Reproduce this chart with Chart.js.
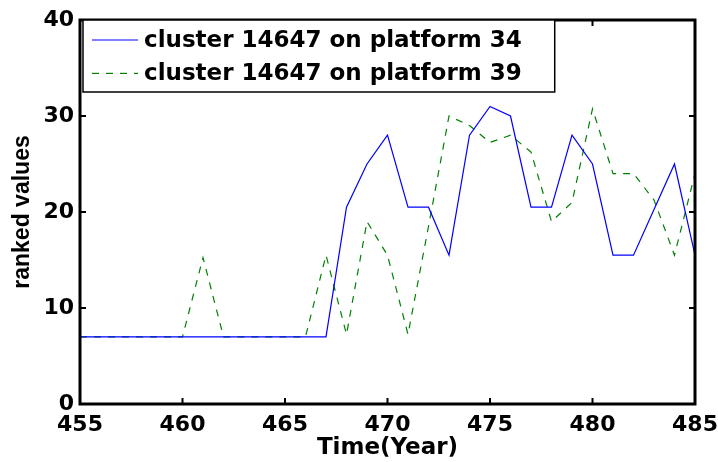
<!DOCTYPE html>
<html>
<head>
<meta charset="utf-8">
<title>ranked values</title>
<script src="https://cdn.jsdelivr.net/npm/chart.js@4.4.0/dist/chart.umd.min.js"></script>
<style>
    html, body { margin: 0; padding: 0; background: #fff; }
    #wrap { width: 718px; height: 462px; }
</style>
</head>
<body>
<div id="wrap"><canvas id="rank-chart" width="718" height="462"></canvas></div>
<script>
const years = [455, 456, 457, 458, 459, 460, 461, 462, 463, 464, 465, 466, 467, 468, 469, 470,
               471, 472, 473, 474, 475, 476, 477, 478, 479, 480, 481, 482, 483, 484, 485];
const platform34 = [7, 7, 7, 7, 7, 7, 7, 7, 7, 7, 7, 7, 7, 20.5, 25, 28,
                    20.5, 20.5, 15.5, 28, 31, 30, 20.5, 20.5, 28, 25, 15.5, 15.5, 20.25, 25, 15.5];
const platform39 = [7, 7, 7, 7, 7, 7, 15.25, 7, 7, 7, 7, 7, 15.5, 7.25, 19, 15.5,
                    7.25, 18.5, 30, 29, 27.25, 28, 26.25, 19, 21, 30.75, 24, 24, 21.25, 15.5, 24];
const seriesNames = ['cluster 14647 on platform 34', 'cluster 14647 on platform 39'];

const TICK_FONT = { family: '"DejaVu Sans"', size: 22, weight: 'bold' };

// box around the axes + inward ticks on all four sides (matlab look)
const frameTicks = {
    id: 'frameTicks',
    afterDatasetsDraw(chart) {
        const { ctx, chartArea: a, scales } = chart;
        const len = 6;
        ctx.save();
        ctx.strokeStyle = '#000';
        ctx.lineWidth = 2;
        ctx.beginPath();
        scales.x.ticks.forEach((t, i) => {
            const px = scales.x.getPixelForTick(i);
            ctx.moveTo(px, a.bottom); ctx.lineTo(px, a.bottom - len);
            ctx.moveTo(px, a.top); ctx.lineTo(px, a.top + len);
        });
        scales.y.ticks.forEach((t, i) => {
            const py = scales.y.getPixelForTick(i);
            ctx.moveTo(a.left, py); ctx.lineTo(a.left + len, py);
            ctx.moveTo(a.right, py); ctx.lineTo(a.right - len, py);
        });
        ctx.stroke();
        ctx.lineWidth = 3;
        ctx.strokeRect(a.left, a.top, a.right - a.left, a.bottom - a.top);
        ctx.restore();
    }
};

// legend box in the upper left corner of the plot
const boxLegend = {
    id: 'boxLegend',
    afterDraw(chart) {
        const { ctx, chartArea: a } = chart;
        const sets = chart.data.datasets;
        ctx.save();
        ctx.font = 'bold 23px "DejaVu Sans"';
        const textX = a.left + 64;
        const widest = Math.max(...sets.map(d => ctx.measureText(d.label).width));
        const boxL = a.left + 3, boxT = a.top, boxR = textX + widest + 33, boxB = a.top + 72;
        ctx.fillStyle = '#fff';
        ctx.fillRect(boxL, boxT, boxR - boxL, boxB - boxT);
        ctx.strokeStyle = '#000';
        ctx.lineWidth = 1.5;
        ctx.strokeRect(boxL, boxT, boxR - boxL, boxB - boxT);
        sets.forEach((d, i) => {
            const y = a.top + 20 + i * 33.4;
            ctx.strokeStyle = d.borderColor;
            ctx.lineWidth = 1.2;
            ctx.setLineDash(d.borderDash || []);
            ctx.beginPath();
            ctx.moveTo(a.left + 12, y);
            ctx.lineTo(a.left + 58, y);
            ctx.stroke();
            ctx.setLineDash([]);
            ctx.fillStyle = '#000';
            ctx.textBaseline = 'middle';
            ctx.fillText(d.label, textX, y + 1);
        });
        ctx.restore();
    }
};

const toPoints = vals => years.map((x, i) => ({ x, y: vals[i] }));

new Chart(document.getElementById('rank-chart').getContext('2d'), {
    type: 'line',
    data: {
        datasets: [{
            label: seriesNames[0],
            data: toPoints(platform34),
            borderColor: '#0000ff',
            borderWidth: 1.2,
            pointRadius: 0,
            tension: 0
        }, {
            label: seriesNames[1],
            data: toPoints(platform39),
            borderColor: '#008000',
            borderWidth: 1.2,
            borderDash: [7, 7],
            pointRadius: 0,
            tension: 0
        }]
    },
    options: {
        responsive: false,
        animation: false,
        layout: { padding: { top: 20, right: 23, left: 0, bottom: 0 } },
        plugins: {
            legend: { display: false },
            tooltip: { enabled: false }
        },
        scales: {
            x: {
                type: 'linear',
                min: 455,
                max: 485,
                grid: { display: false, drawTicks: false },
                border: { display: false },
                ticks: { stepSize: 5, color: '#000', font: TICK_FONT, padding: 8, maxRotation: 0 },
                title: {
                    display: true,
                    text: 'Time(Year)',
                    color: '#000',
                    font: { family: '"DejaVu Sans"', size: 23, weight: 'bold' },
                    padding: { top: 0, bottom: 0 }
                },
                afterFit(scale) {
                    scale.height = 58;
                    // let the end labels hang over the padding, like the original
                    scale.paddingLeft = 0;
                    scale.paddingRight = 0;
                }
            },
            y: {
                min: 0,
                max: 40,
                grid: { display: false, drawTicks: false },
                border: { display: false },
                ticks: { stepSize: 10, color: '#000', font: TICK_FONT, padding: 6 },
                title: {
                    display: true,
                    text: 'ranked values',
                    color: '#000',
                    font: { family: '"Liberation Sans"', size: 23, weight: 'bold' },
                    padding: { top: 9, bottom: 0 }
                },
                afterFit(scale) { scale.width = 80; }
            }
        }
    },
    plugins: [frameTicks, boxLegend]
});
</script>
</body>
</html>
